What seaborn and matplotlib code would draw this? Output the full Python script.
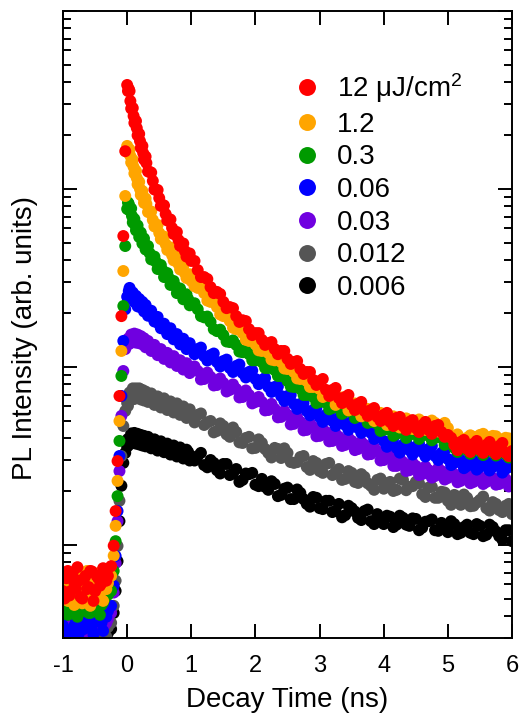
import numpy as np
import pandas as pd
import matplotlib
matplotlib.use('Agg')
import matplotlib.pyplot as plt
import seaborn as sns
from matplotlib.lines import Line2D
from matplotlib.ticker import LogLocator, NullLocator, NullFormatter, FixedLocator

"""
Data (read off the reference picture)
"""
# main sampling, then the in-between samples of the pre-pulse, the tail and the early decay
time = [
    -1.00, -0.95, -0.90, -0.85, -0.80, -0.75, -0.70, -0.65, -0.60, -0.55, -0.50, -0.45, -0.40, -0.35, -0.30,
    -0.25, -0.21, -0.18, -0.15, -0.12, -0.09, -0.06, -0.03,
    0.000, 0.025, 0.050, 0.075, 0.100, 0.125, 0.150, 0.175, 0.200, 0.225, 0.250, 0.275, 0.300,
    0.35, 0.40, 0.45, 0.50, 0.55, 0.60, 0.65, 0.70, 0.75, 0.80, 0.85, 0.90, 0.95, 1.00,
    1.1, 1.2, 1.3, 1.4, 1.5, 1.6, 1.7, 1.8, 1.9, 2.0,
    2.1, 2.2, 2.3, 2.4, 2.5, 2.6, 2.7, 2.8, 2.9, 3.0,
    3.1, 3.2, 3.3, 3.4, 3.5, 3.6, 3.7, 3.8, 3.9, 4.0,
    4.1, 4.2, 4.3, 4.4, 4.5, 4.6, 4.7, 4.8, 4.9, 5.0,
    5.1, 5.2, 5.3, 5.4, 5.5, 5.6, 5.7, 5.8, 5.9, 6.0,
    # pre-pulse in-between
    -0.975, -0.925, -0.875, -0.825, -0.775, -0.725, -0.675, -0.625, -0.575, -0.525, -0.475, -0.425, -0.375, -0.325,
    # tail in-between
    1.05, 1.15, 1.25, 1.35, 1.45, 1.55, 1.65, 1.75, 1.85, 1.95,
    2.05, 2.15, 2.25, 2.35, 2.45, 2.55, 2.65, 2.75, 2.85, 2.95,
    3.05, 3.15, 3.25, 3.35, 3.45, 3.55, 3.65, 3.75, 3.85, 3.95,
    4.05, 4.15, 4.25, 4.35, 4.45, 4.55, 4.65, 4.75, 4.85, 4.95,
    5.05, 5.15, 5.25, 5.35, 5.45, 5.55, 5.65, 5.75, 5.85, 5.95,
    # early decay in-between
    0.0125, 0.0375, 0.0625, 0.0875, 0.1125, 0.1375, 0.1625, 0.1875, 0.2125, 0.2375, 0.2625, 0.2875,
    0.325, 0.375, 0.425, 0.475, 0.525, 0.575, 0.625, 0.675, 0.725, 0.775, 0.825, 0.875, 0.925, 0.975,
]

pl_12 = [
    0.55, 0.65, 0.52, 0.70, 0.57, 0.63, 0.50, 0.67, 0.58, 0.71, 0.55, 0.65, 0.61, 0.73, 0.67,
    0.76, 0.99, 1.55, 2.96, 6.87, 19.3, 54.4, 163,
    384, 365, 312, 285, 257, 238, 220, 202, 186, 172, 159, 149, 140,
    124.6, 111, 98.7, 88.9, 81.3, 72.3, 67.0, 60.4, 57.3, 51.7, 49.0, 44.8, 43.1, 39.4,
    35.0, 32.0, 28.1, 26.4, 23.2, 21.7, 19.3, 18.3, 16.3, 15.5,
    14.2, 13.6, 12.6, 12.3, 11.1, 10.66, 9.74, 9.37, 8.45, 8.34,
    7.43, 7.43, 6.69, 6.78, 6.12, 6.20, 5.66, 5.73, 5.24, 5.38,
    4.91, 5.17, 4.66, 4.91, 4.54, 4.72, 4.43, 4.66, 4.31, 4.15,
    3.65, 3.79, 3.47, 3.70, 3.42, 3.65, 3.37, 3.60, 3.29, 3.37,
    0.50, 0.714, 0.552, 0.615, 0.75, 0.51, 0.645, 0.565, 0.714, 0.485, 0.67, 0.59, 0.74, 0.63,
    39.4, 32.0, 31.2, 26.0, 25.7, 21.4, 21.4, 17.9, 18.1, 15.1,
    15.5, 13.3, 13.8, 11.8, 12.3, 10.4, 10.8, 9.13, 9.37, 7.92,
    8.56, 6.87, 7.62, 6.27, 6.96, 5.73, 6.36, 5.31, 5.88, 4.97,
    5.52, 4.66, 5.24, 4.43, 5.03, 4.31, 4.91, 4.21, 4.72, 4.05,
    4.00, 3.41, 3.89, 3.33, 3.84, 3.29, 3.79, 3.24, 3.74, 3.16,
    355, 355, 283, 285, 235, 241, 200, 204, 170, 174.5, 146.5, 152,
    125.4, 123.7, 99.3, 98.7, 80.3, 80.8, 66.5, 67.4, 55.8, 57.3, 47.8, 49.4, 41.7, 43.4,
]

pl_1p2 = [
    0.51, 0.59, 0.485, 0.63, 0.54, 0.71, 0.47, 0.575, 0.52, 0.645, 0.50, 0.605, 0.55, 0.685, 0.61,
    0.67, 0.87, 1.28, 2.29, 4.97, 12.3, 34.6, 91.3,
    174.5, 163.5, 153.3, 143.7, 133, 124.6, 115.2, 108.1, 99.9, 94.9, 90.1, 85.7, 82.4,
    74.2, 67.0, 62.8, 56.6, 53.7, 49.0, 46.6, 42.5, 40.9, 37.9, 36.4, 33.7, 32.8, 30.4,
    27.8, 26.0, 23.2, 21.7, 19.3, 18.1, 16.3, 15.5, 14.0, 13.4,
    12.3, 12.0, 10.9, 10.66, 9.74, 9.37, 8.56, 8.34, 7.72, 7.52,
    6.96, 6.78, 6.36, 6.28, 5.88, 5.88, 5.45, 5.52, 5.17, 5.24,
    4.97, 5.03, 4.91, 4.97, 4.85, 4.91, 4.79, 4.85, 4.66, 4.54,
    4.05, 3.94, 4.00, 4.05, 4.15, 4.05, 4.10, 3.94, 4.00, 3.79,
    0.615, 0.485, 0.67, 0.46, 0.565, 0.645, 0.50, 0.714, 0.455, 0.59, 0.54, 0.70, 0.485, 0.565,
    28.4, 27.9, 23.6, 23.3, 19.7, 19.4, 16.6, 16.6, 14.2, 14.3,
    12.4, 12.6, 11.0, 11.2, 9.80, 9.94, 8.62, 8.79, 7.72, 7.92,
    6.78, 7.33, 6.12, 6.74, 5.70, 6.24, 5.28, 5.81, 4.97, 5.52,
    4.72, 5.28, 4.57, 5.14, 4.48, 5.07, 4.43, 5.00, 4.34, 4.85,
    4.05, 4.18, 3.60, 4.13, 3.67, 4.21, 3.65, 4.08, 3.53, 3.97,
    160.3, 166.7, 140.9, 145.6, 122.2, 126.2, 106.1, 109.6, 92.5, 97.4, 83.5, 88.4,
    74.2, 74.7, 61.6, 62.8, 52.3, 54.0, 45.4, 46.9, 39.7, 41.5, 35.3, 36.9, 31.6, 33.2,
]

pl_0p3 = [
    0.437, 0.485, 0.415, 0.50, 0.45, 0.518, 0.426, 0.467, 0.415, 0.485, 0.445, 0.51, 0.46, 0.50, 0.525,
    0.552, 0.714, 1.05, 1.88, 3.84, 8.9, 22.0, 47.8,
    77.2, 82.4, 77.2, 70.5, 66.1, 62.8, 60.4, 58.1, 55.1, 53.0, 51.0, 49.0, 47.2,
    43.6, 40.4, 38.9, 35.9, 35.0, 32.4, 31.6, 29.2, 28.5, 26.4, 26.0, 24.4, 24.1, 22.6,
    21.1, 19.0, 17.9, 15.9, 15.1, 13.8, 13.3, 12.1, 11.8, 10.9,
    10.66, 9.87, 9.61, 8.90, 8.34, 7.72, 7.52, 6.96, 6.78, 6.36,
    6.28, 5.88, 5.88, 5.59, 5.59, 5.31, 5.31, 4.91, 4.78, 4.43,
    4.43, 4.21, 4.26, 4.15, 4.21, 4.10, 4.15, 3.99, 3.99, 3.79,
    3.51, 3.51, 3.41, 3.46, 3.37, 3.41, 3.33, 3.37, 3.24, 3.29,
    0.475, 0.405, 0.51, 0.437, 0.395, 0.50, 0.445, 0.54, 0.415, 0.46, 0.51, 0.405, 0.475, 0.552,
    22.8, 19.3, 19.2, 16.3, 16.2, 13.9, 14.1, 12.2, 12.5, 10.9,
    11.2, 9.87, 10.13, 8.90, 9.02, 7.77, 7.92, 6.96, 7.14, 6.27,
    6.66, 5.78, 6.20, 5.45, 5.88, 5.17, 5.59, 4.85, 5.10, 4.37,
    4.66, 4.10, 4.46, 3.99, 4.40, 3.94, 4.34, 3.87, 4.21, 3.65,
    3.89, 3.33, 3.65, 3.25, 3.60, 3.20, 3.56, 3.18, 3.49, 3.10,
    84.0, 75.7, 77.7, 64.8, 67.8, 58.5, 62.4, 53.7, 56.9, 49.4, 52.7, 45.7,
    47.8, 40.2, 41.7, 35.5, 37.4, 32.0, 33.7, 28.9, 30.4, 26.0, 27.6, 24.0, 25.6, 22.2,
]

pl_0p06 = [
    0.351, 0.415, 0.329, 0.437, 0.374, 0.32, 0.40, 0.355, 0.426, 0.337, 0.383, 0.45, 0.365, 0.405, 0.426,
    0.455, 0.59, 0.867, 1.55, 3.16, 6.87, 14.0, 21.1,
    24.8, 26.7, 26.0, 25.1, 24.8, 24.1, 23.5, 22.6, 23.2, 22.3, 21.7, 21.4, 20.9,
    20.3, 19.0, 18.8, 17.4, 17.2, 16.1, 15.7, 15.5, 14.5, 14.5, 13.6, 13.6, 12.9, 12.8,
    12.6, 11.5, 11.65, 10.66, 10.8, 9.87, 10.13, 9.24, 9.37, 8.56,
    8.45, 7.72, 7.72, 6.87, 6.87, 6.20, 6.20, 5.66, 5.73, 5.24,
    5.38, 4.97, 5.17, 4.72, 4.91, 4.54, 4.72, 4.26, 4.21, 3.84,
    3.79, 3.51, 3.65, 3.41, 3.56, 3.33, 3.46, 3.16, 3.29, 3.04,
    2.89, 3.00, 2.78, 2.96, 2.74, 2.92, 2.74, 2.85, 2.67, 2.74,
    0.40, 0.32, 0.437, 0.351, 0.305, 0.415, 0.337, 0.383, 0.45, 0.313, 0.374, 0.415, 0.329, 0.395,
    11.8, 12.85, 10.87, 11.9, 10.06, 11.0, 9.37, 10.33, 8.73, 9.55,
    8.00, 8.67, 7.24, 7.77, 6.44, 6.96, 5.81, 6.27, 5.35, 5.85,
    4.91, 5.59, 4.66, 5.31, 4.43, 5.07, 4.26, 4.82, 3.94, 4.37,
    3.56, 3.97, 3.30, 3.82, 3.22, 3.71, 3.14, 3.60, 3.00, 3.41,
    2.81, 3.18, 2.70, 3.12, 2.65, 3.08, 2.62, 3.02, 2.55, 2.94,
    24.4, 27.8, 24.3, 26.2, 23.2, 25.1, 21.9, 24.1, 21.6, 23.2, 20.5, 22.3,
    19.4, 20.7, 18.0, 19.1, 16.5, 17.5, 15.3, 16.5, 14.3, 15.3, 13.4, 14.4, 12.6, 13.6,
]

pl_0p03 = [
    0.337, 0.383, 0.32, 0.374, 0.346, 0.405, 0.329, 0.365, 0.395, 0.32, 0.374, 0.346, 0.40, 0.355, 0.383,
    0.415, 0.54, 0.79, 1.36, 2.60, 5.31, 9.49, 12.6,
    13.3, 14.0, 14.4, 14.5, 14.7, 14.5, 14.4, 14.5, 14.2, 14.2, 14.0, 13.6, 13.5,
    13.3, 12.5, 12.8, 11.8, 12.1, 11.2, 11.5, 10.8, 11.1, 10.26, 10.5, 9.87, 9.99, 9.49,
    9.49, 8.56, 8.79, 7.92, 8.13, 7.43, 7.52, 6.78, 6.96, 6.36,
    6.36, 5.73, 5.81, 5.24, 5.38, 4.79, 4.91, 4.43, 4.60, 4.10,
    4.31, 3.84, 4.05, 3.65, 3.84, 3.46, 3.65, 3.24, 3.37, 3.00,
    3.12, 2.78, 2.92, 2.63, 2.78, 2.50, 2.63, 2.44, 2.60, 2.38,
    2.50, 2.29, 2.47, 2.26, 2.41, 2.26, 2.38, 2.20, 2.35, 2.18,
    0.355, 0.405, 0.313, 0.374, 0.337, 0.395, 0.32, 0.365, 0.415, 0.329, 0.383, 0.346, 0.405, 0.365,
    10.07, 8.50, 9.30, 7.87, 8.62, 7.28, 7.98, 6.74, 7.38, 6.24,
    6.78, 5.70, 6.20, 5.21, 5.66, 4.75, 5.21, 4.40, 4.82, 4.08,
    4.48, 3.82, 4.21, 3.60, 3.99, 3.41, 3.79, 3.22, 3.53, 2.98,
    3.25, 2.78, 3.06, 2.60, 2.89, 2.47, 2.76, 2.39, 2.70, 2.33,
    2.60, 2.25, 2.54, 2.22, 2.50, 2.20, 2.49, 2.18, 2.45, 2.13,
    14.4, 13.5, 15.2, 13.9, 15.4, 13.7, 15.2, 13.6, 14.9, 13.4, 14.5, 12.9,
    14.0, 12.3, 13.3, 11.65, 12.6, 11.1, 12.0, 10.6, 11.5, 10.13, 10.9, 9.67, 10.5, 9.24,
]

pl_0p012 = [
    0.309, 0.337, 0.29, 0.329, 0.305, 0.346, 0.30, 0.32, 0.337, 0.29, 0.313, 0.351, 0.305, 0.329, 0.346,
    0.365, 0.455, 0.63, 0.987, 1.77, 3.16, 4.66, 5.66,
    6.27, 6.61, 6.87, 7.05, 7.14, 6.96, 7.23, 7.05, 7.14, 6.87, 7.05, 6.78, 6.87,
    6.87, 6.36, 6.61, 6.12, 6.44, 5.96, 6.28, 5.73, 6.12, 5.59, 5.88, 5.38, 5.66, 5.24,
    5.38, 4.72, 4.97, 4.37, 4.66, 4.05, 4.31, 3.74, 4.05, 3.51,
    3.74, 3.29, 3.51, 3.08, 3.29, 2.89, 3.12, 2.74, 2.96, 2.60,
    2.85, 2.47, 2.67, 2.35, 2.54, 2.23, 2.41, 2.15, 2.32, 2.07,
    2.26, 2.04, 2.32, 2.12, 2.26, 1.93, 2.10, 1.84, 1.99, 1.77,
    1.91, 1.68, 1.84, 1.66, 1.79, 1.61, 1.74, 1.57, 1.66, 1.49,
    0.32, 0.29, 0.346, 0.305, 0.276, 0.329, 0.365, 0.30, 0.313, 0.337, 0.283, 0.32, 0.355, 0.305,
    4.88, 5.48, 4.88, 4.29, 4.82, 4.18, 4.57, 3.77, 3.99, 3.49,
    3.92, 3.46, 3.10, 3.46, 3.49, 2.92, 2.92, 3.16, 2.64, 2.89,
    2.54, 2.89, 2.57, 2.32, 2.60, 2.26, 2.50, 2.22, 2.04, 2.36,
    2.22, 2.01, 2.36, 2.03, 2.14, 2.22, 1.86, 2.12, 1.84, 1.97,
    1.68, 1.87, 1.92, 1.65, 1.73, 1.87, 1.56, 1.70, 1.53, 1.70,
    6.04, 7.18, 6.53, 7.58, 6.61, 7.58, 6.70, 7.58, 6.57, 7.43, 6.48, 7.28,
    6.36, 7.10, 6.12, 6.83, 5.92, 6.66, 5.73, 6.40, 5.55, 6.24, 5.38, 6.00, 5.17, 5.78,
]

pl_0p006 = [
    0.30, 0.313, 0.283, 0.305, 0.29, 0.32, 0.276, 0.301, 0.313, 0.283, 0.305, 0.32, 0.29, 0.313, 0.32,
    0.337, 0.415, 0.552, 0.81, 1.36, 2.15, 2.89, 3.29,
    3.56, 3.84, 3.99, 3.94, 4.05, 3.94, 3.99, 3.89, 3.94, 3.84, 3.89, 3.79, 3.84,
    3.84, 3.56, 3.74, 3.46, 3.65, 3.37, 3.56, 3.29, 3.51, 3.20, 3.41, 3.12, 3.33, 3.08,
    3.16, 2.81, 3.00, 2.63, 2.85, 2.47, 2.67, 2.32, 2.50, 2.18,
    2.35, 2.04, 2.20, 1.91, 2.10, 1.81, 1.96, 1.70, 1.86, 1.61,
    1.77, 1.53, 1.70, 1.47, 1.61, 1.42, 1.55, 1.36, 1.49, 1.31,
    1.44, 1.30, 1.42, 1.28, 1.40, 1.25, 1.36, 1.21, 1.33, 1.18,
    1.31, 1.17, 1.30, 1.15, 1.28, 1.14, 1.26, 1.12, 1.21, 1.05,
    0.29, 0.313, 0.27, 0.305, 0.329, 0.276, 0.30, 0.32, 0.264, 0.305, 0.29, 0.329, 0.283, 0.305,
    2.98, 3.29, 2.73, 2.89, 2.52, 2.85, 2.52, 2.26, 2.52, 2.54,
    2.14, 2.12, 2.28, 1.88, 2.07, 1.81, 2.05, 1.81, 1.64, 1.84,
    1.59, 1.77, 1.55, 1.43, 1.66, 1.54, 1.38, 1.58, 1.31, 1.37,
    1.46, 1.26, 1.46, 1.30, 1.41, 1.21, 1.35, 1.39, 1.20, 1.25,
    1.36, 1.15, 1.26, 1.17, 1.31, 1.12, 1.30, 1.19, 1.07, 1.21,
    3.94, 3.67, 4.23, 3.74, 4.26, 3.71, 4.21, 3.67, 4.15, 3.62, 4.10, 3.58,
    4.05, 3.49, 3.92, 3.39, 3.82, 3.32, 3.71, 3.22, 3.62, 3.14, 3.53, 3.06, 3.43, 2.98,
]

labels = ['12 μJ/cm$^2$', '1.2', '0.3', '0.06', '0.03', '0.012', '0.006']
series = [pl_12, pl_1p2, pl_0p3, pl_0p06, pl_0p03, pl_0p012, pl_0p006]
colors = ['#ff0000', '#ffa500', '#009a00', '#0000ff', '#7000e0', '#555555', '#000000']

"""
Style
"""
sns.set_theme(style='ticks', rc={
    'axes.edgecolor': 'black', 'text.color': 'black', 'axes.labelcolor': 'black',
    'xtick.color': 'black', 'ytick.color': 'black', 'axes.unicode_minus': False,
})
plt.rcParams['font.family'] = ['Liberation Sans', 'DejaVu Sans']
plt.rcParams['mathtext.fontset'] = 'custom'
plt.rcParams['mathtext.rm'] = 'Liberation Sans'
plt.rcParams['mathtext.it'] = 'Liberation Sans:italic'


def build_frame():
    frames = [pd.DataFrame({'time': time, 'intensity': vals, 'fluence': lab})
              for lab, vals in zip(labels, series)]
    # lowest fluence first so the red points end up on top
    return pd.concat(frames[::-1], ignore_index=True)


def main():
    df = build_frame()

    fig = plt.figure(figsize=(5.23, 7.27), dpi=100)
    ax = fig.add_axes([0.1205, 0.1224, 0.8585, 0.8625])

    sns.scatterplot(data=df, x='time', y='intensity', hue='fluence', hue_order=labels,
                    palette=colors, s=74, linewidth=0, legend=False, ax=ax)

    ax.set_yscale('log')
    ax.set_xlim(-1, 6)
    ax.set_ylim(0.3, 1000)

    ax.xaxis.set_major_locator(FixedLocator(range(-1, 7)))
    ax.xaxis.set_minor_locator(NullLocator())
    ax.yaxis.set_major_locator(LogLocator(base=10, numticks=10))
    ax.yaxis.set_minor_locator(LogLocator(base=10, subs=np.arange(2, 10), numticks=20))
    ax.yaxis.set_minor_formatter(NullFormatter())

    ax.tick_params(which='both', direction='in', top=True, right=True, width=1.4)
    ax.tick_params(which='major', length=10, labelsize=17, pad=12)
    ax.tick_params(which='minor', length=5.8)
    ax.tick_params(axis='y', which='both', labelleft=False)
    for sp in ax.spines.values():
        sp.set_linewidth(1.4)

    ax.set_xlabel('Decay Time (ns)', fontsize=20)
    ax.set_ylabel('PL Intensity (arb. units)', fontsize=20)
    ax.xaxis.set_label_coords(0.5, -0.078)
    ax.yaxis.set_label_coords(-0.055, 0.478)

    handles = [Line2D([], [], marker='o', linestyle='', markersize=12.2,
                      markerfacecolor=c, markeredgewidth=0) for c in colors]
    ax.legend(handles, labels, loc='upper left', bbox_to_anchor=(0.512, 0.904),
              frameon=False, fontsize=20, handlelength=1.0, handletextpad=0.6,
              labelspacing=0.24, borderpad=0, borderaxespad=0)

    fig.savefig('out.png', dpi=100)
    plt.close(fig)


if __name__ == '__main__':
    main()
